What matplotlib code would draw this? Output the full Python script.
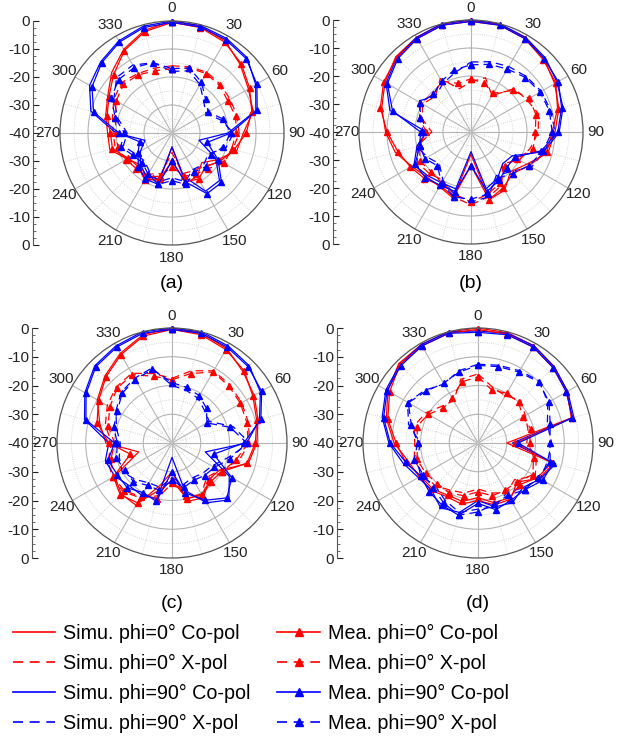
# Radiation patterns (simulated vs measured), four panels
import numpy as np
import matplotlib.pyplot as plt
from matplotlib.lines import Line2D
from matplotlib.ticker import MultipleLocator

plt.rcParams['font.family'] = ['Liberation Sans', 'DejaVu Sans']

# angles in degrees, every 15 deg
angles = np.arange(0, 360, 15)

# ---- panel (a) ----
a_sim0_co = [0, -0.5, -2, -5.5, -8.5, -10, -14.5, -16, -21, -25, -22, -21.5, -35, -22, -21.5, -24, -21.5, -17, -17, -15.5, -13.5, -9.5, -5.5, -2]
a_sim0_x = [-16, -15.5, -15, -15.5, -16, -16, -16, -17.5, -19, -23.5, -24.5, -25, -33, -25, -23, -23, -20.5, -19, -19, -18, -16, -14.5, -15.5, -16]
a_sim90_co = [0, -0.3, -1, -2, -5.5, -9, -20, -30, -22, -16, -16, -24, -35, -23, -22, -24, -27, -30, -20, -10, -6, -4, -2, -0.5]
a_sim90_x = [-18, -17, -20, -24, -26, -22, -18, -20, -25, -24, -25, -22, -24, -22, -24, -26, -25, -22, -24, -20, -16, -12, -12, -14]
a_mea0_co = [-0.5, -1, -2.5, -5, -8, -10.5, -13.5, -17, -20, -23, -21, -22, -30, -23, -20.5, -23, -22, -18, -18, -16, -14, -10.5, -6, -2.5]
a_mea0_x = [-17, -16, -15.5, -16, -17, -16.5, -17, -18, -18.5, -22, -23, -24, -28, -24, -22, -22, -21, -20, -20, -19, -17, -15.5, -16, -17]
a_mea90_co = [-0.5, -0.8, -1.5, -2.5, -5, -8.5, -19, -27, -21, -15, -15, -22, -30, -21, -21, -23, -26, -28, -21, -11, -7, -4.5, -2.5, -1]
a_mea90_x = [-17, -16, -19, -23, -25, -21, -19, -21, -24, -23, -24, -21, -23, -21, -23, -25, -24, -21, -23, -19, -15, -13, -13, -14]

# ---- panel (b) ----
b_sim0_co = [0, -0.3, -1, -3, -5.5, -7.5, -10, -11.5, -17, -20, -16, -15, -32, -15.5, -17.5, -17.5, -15.5, -12, -9.5, -7, -4.5, -2, -1, 0]
b_sim0_x = [-22, -20, -25, -18, -17, -15, -16, -18, -20, -24, -18, -16, -14, -16, -20, -19, -18, -20, -26, -22, -20, -22, -18, -24]
b_sim90_co = [0, 0, -1, -2.5, -4.5, -6, -8.5, -13, -23, -24, -21, -19, -33, -19, -19, -18, -16.5, -20, -24, -10, -5, -2.5, -1, 0]
b_sim90_x = [-15, -14, -13, -12, -11, -10.5, -10, -13, -15, -20, -22, -16, -15, -17, -20, -24, -22, -20, -24, -22, -18, -22, -20, -18]
b_mea0_co = [-0.5, -0.5, -1.5, -3.5, -5, -8, -11, -12, -16, -19, -17, -15, -28, -16, -18, -16.5, -15, -13, -10, -6.5, -4, -2.5, -1.5, -0.5]
b_mea0_x = [-21, -22, -24, -19, -16, -16, -17, -17, -21, -23, -19, -17, -15, -17, -19, -20, -19, -21, -24, -21, -19, -21, -19, -22]
b_mea90_co = [-0.5, -0.5, -1.5, -3, -4, -6.5, -9, -14, -22, -22, -20, -18, -28, -18, -18, -17, -17, -21, -22, -11, -5.5, -3, -1.5, -0.5]
b_mea90_x = [-16, -15, -14, -12.5, -11.5, -11, -11, -13.5, -16, -19, -21, -17, -16, -16, -19, -23, -21, -21, -23, -21, -19, -21, -19, -17]

# ---- panel (c) ----
c_sim0_co = [0, -0.5, -2, -5, -7, -9, -10.5, -12.5, -21, -22, -18, -19, -30, -25, -15, -15, -17, -28, -17, -14, -10, -7, -4, -1]
c_sim0_x = [-17.5, -14, -11, -11.5, -12, -12.5, -13, -16, -21, -23, -19.5, -20, -28, -21, -18, -16, -16, -17, -19, -16, -14, -12.5, -12, -15]
c_sim90_co = [0, 0, -1, -2, -4.5, -8.5, -14, -28, -17, -12, -16, -23, -35, -20, -19, -19, -17, -16, -18, -8.5, -5, -2, -1, 0]
c_sim90_x = [-20, -21, -22, -24, -25, -18, -13, -20, -24, -25, -26, -25, -28, -24, -24, -22, -20, -21, -22, -20, -17.5, -15, -14, -13]
c_mea0_co = [-0.5, -1, -2.5, -4.5, -7.5, -9.5, -11, -13, -20, -21, -19, -20, -27, -23, -16, -14.5, -16.5, -25, -18, -13, -10.5, -7.5, -4.5, -1.5]
c_mea0_x = [-18, -15, -11.5, -12, -12.5, -13, -13.5, -17, -20, -22, -19, -21, -26, -20, -18.5, -16.5, -16.5, -18, -20, -17, -15, -13, -12.5, -16]
c_mea90_co = [-0.5, -0.5, -1.5, -2.5, -4, -8, -15, -25, -16, -13, -17, -22, -30, -19, -20, -18, -18, -17, -20, -9, -5.5, -2.5, -1.5, -0.5]
c_mea90_x = [-19, -20, -21, -23, -26, -19, -14, -19, -23, -24, -25, -24, -27, -23, -23, -21, -21, -20, -21, -19, -18, -15.5, -14.5, -13.5]

# ---- panel (d) ----
d_sim0_co = [0, -0.3, -1, -2.5, -4.2, -6.4, -30, -12.7, -15.4, -20.8, -17.4, -17.7, -20, -18, -18.4, -16.8, -16.4, -15, -10.8, -7, -3.8, -1, -0.5, 0]
d_sim0_x = [-16, -20, -21, -19, -21, -22, -23, -19, -17, -22, -20, -22, -24, -22, -21, -19, -18, -17, -18, -17, -19, -22, -23, -17]
d_sim90_co = [-1, -0.5, -1, -2.5, -4, -5.5, -28, -12, -15, -18, -16, -17, -20, -15, -14, -17, -16, -13, -9, -5.5, -3, -1.5, -0.5, 0]
d_sim90_x = [-12.6, -12, -11, -9.6, -12, -15, -14.4, -15, -15, -18, -20, -17, -17, -15, -17, -19, -17, -18, -20, -15, -11.7, -14, -16.3, -14]
d_mea0_co = [-0.5, -0.8, -1.5, -3, -4.5, -6, -27, -13.5, -16, -19.5, -18, -18.5, -21, -19, -19, -17.5, -17, -14, -11.5, -7.5, -4.5, -1.5, -1, -0.5]
d_mea0_x = [-17, -21, -20, -20, -22, -21, -22, -20, -18, -21, -21, -21, -23, -21, -20, -20, -19, -18, -19, -18, -20, -23, -22, -18]
d_mea90_co = [-1.5, -1, -1.5, -3, -4.5, -6, -26, -13, -14, -17, -17, -16, -19, -14, -15, -16, -17, -14, -9.5, -6, -3.5, -2, -1, -0.5]
d_mea90_x = [-13, -12.5, -11.5, -10, -11.5, -14, -15, -14, -16, -17, -19, -18, -16, -14, -16, -18, -18, -17, -19, -16, -12, -14.5, -16, -14.5]

series_labels = ['Simu. phi=0° Co-pol', 'Simu. phi=0° X-pol',
                 'Simu. phi=90° Co-pol', 'Simu. phi=90° X-pol',
                 'Mea. phi=0° Co-pol', 'Mea. phi=0° X-pol',
                 'Mea. phi=90° Co-pol', 'Mea. phi=90° X-pol']
angle_labels = ['0', '30', '60', '90', '120', '150', '180', '210', '240', '270', '300', '330']
scale_labels = ['0', '-10', '-20', '-30', '-40', '-30', '-20', '-10', '0']
panel_names = ['(a)', '(b)', '(c)', '(d)']

# (color, linestyle, marker) for the 8 series
styles = [('red', '-', None), ('red', '--', None), ('blue', '-', None), ('blue', '--', None),
          ('red', '-', '^'), ('red', '--', '^'), ('blue', '-', '^'), ('blue', '--', '^')]

panel_data = [
    [a_sim0_co, a_sim0_x, a_sim90_co, a_sim90_x, a_mea0_co, a_mea0_x, a_mea90_co, a_mea90_x],
    [b_sim0_co, b_sim0_x, b_sim90_co, b_sim90_x, b_mea0_co, b_mea0_x, b_mea90_co, b_mea90_x],
    [c_sim0_co, c_sim0_x, c_sim90_co, c_sim90_x, c_mea0_co, c_mea0_x, c_mea90_co, c_mea90_x],
    [d_sim0_co, d_sim0_x, d_sim90_co, d_sim90_x, d_mea0_co, d_mea0_x, d_mea90_co, d_mea90_x],
]

# layout in pixels: polar centre x, y, radius, scale-axis x, label y
W, H = 621, 736
layout = [(172, 133, 112, 33, 283), (471, 132, 112, 333, 283),
          (172, 443, 115, 32, 603), (478, 443, 115, 337, 603)]

fig = plt.figure(figsize=(W / 100, H / 100), dpi=100)

theta = np.radians(np.append(angles, 360))

for name, data, (cx, cy, R, sx, ly) in zip(panel_names, panel_data, layout):
    ax = fig.add_axes([(cx - R) / W, (H - cy - R) / H, 2 * R / W, 2 * R / H], projection='polar')
    ax.set_theta_zero_location('N')
    ax.set_theta_direction(-1)
    ax.set_ylim(-40, 0)
    ax.set_yticks([-30, -20, -10])
    ax.set_yticks([-35, -25, -15, -5], minor=True)
    ax.set_yticklabels([])
    ax.set_xticks(np.radians(np.arange(0, 360, 30)))
    ax.set_xticklabels(angle_labels)
    ax.set_xticks(np.radians(np.arange(15, 360, 30)), minor=True)
    ax.grid(which='major', color='#b4b4b4', lw=0.8, ls='-')
    ax.grid(which='minor', color='#c8c8c8', lw=0.6, ls=':')
    ax.tick_params(axis='x', which='both', length=0, pad=2, labelsize=11, colors='#222222')
    ax.tick_params(axis='y', which='both', length=0)
    ax.spines['polar'].set_color('#555555')
    ax.spines['polar'].set_linewidth(0.9)

    for vals, (col, ls, mk) in zip(data, styles):
        r = np.append(vals, vals[0])
        ax.plot(theta, r, color=col, ls=ls, lw=0.9, marker=mk, ms=4.5,
                dashes=(6, 4) if ls == '--' else (None, None), clip_on=False)

    # vertical dB scale on the left
    sax = fig.add_axes([sx / W, (H - cy - R) / H, 0.02, 2 * R / H])
    sax.patch.set_visible(False)
    for side in ['top', 'right', 'bottom']:
        sax.spines[side].set_visible(False)
    sax.spines['left'].set_color('#555555')
    sax.set_ylim(-40, 40)
    sax.set_xticks([])
    sax.set_yticks(np.arange(-40, 41, 10))
    sax.set_yticklabels(scale_labels)
    sax.yaxis.set_minor_locator(MultipleLocator(2.5))
    sax.tick_params(axis='y', which='major', direction='in', length=4, labelsize=11, pad=2, colors='#222222')
    sax.tick_params(axis='y', which='minor', direction='in', length=2, colors='#555555')

    fig.text(cx / W, 1 - ly / H, name, ha='center', va='center', fontsize=14)

handles = []
for col, ls, mk in styles:
    handles.append(Line2D([], [], color=col, ls=ls, lw=1.2, marker=mk, ms=6,
                          dashes=(6, 4) if ls == '--' else (None, None)))

fig.legend(handles, series_labels, ncol=2, loc='upper left', bbox_to_anchor=(13 / W, 1 - 624 / H),
           frameon=False, fontsize=14.2, handlelength=2.15, handletextpad=0.4,
           columnspacing=1.35, labelspacing=0.55, borderaxespad=0, borderpad=0)

fig.savefig('out.png', dpi=100)
